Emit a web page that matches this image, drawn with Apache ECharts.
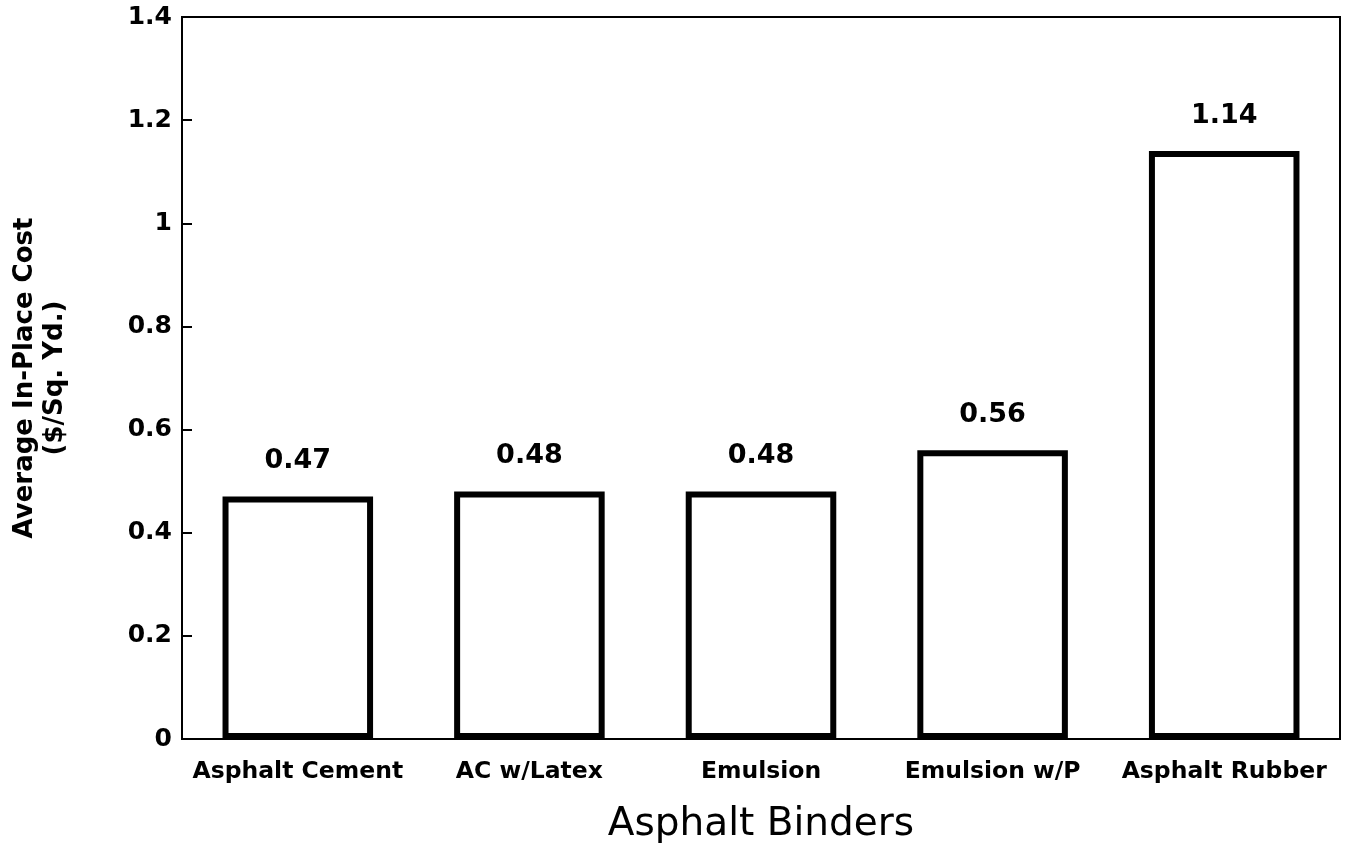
<!DOCTYPE html>
<html>
<head>
<meta charset="utf-8">
<script src="https://cdn.jsdelivr.net/npm/echarts@6/dist/echarts.min.js"></script>
<style>
  html, body { margin: 0; padding: 0; background: #fff; }
  #chart { width: 1356px; height: 852px; }
</style>
</head>
<body>
<div id="chart"></div>
<script>
// Average in-place cost by asphalt binder type
const binders = ['Asphalt Cement', 'AC w/Latex', 'Emulsion', 'Emulsion w/P', 'Asphalt Rubber'];
const costs = [0.47, 0.48, 0.48, 0.56, 1.14];
const yTicks = [0, 0.2, 0.4, 0.6, 0.8, 1, 1.2, 1.4];

const WIDE = '"DejaVu Sans", Verdana, sans-serif';
const chart = echarts.init(document.getElementById('chart'));

chart.setOption({
  backgroundColor: '#ffffff',
  animation: false,
  grid: {
    left: 182, right: 16, top: 17, bottom: 113,
    outerBoundsMode: 'none',
    containLabel: false,
    show: true, borderColor: '#000', borderWidth: 2, backgroundColor: 'transparent'
  },
  xAxis: {
    type: 'category',
    data: binders,
    axisLine: { show: true, lineStyle: { color: '#000', width: 2 } },
    axisTick: { show: false },
    axisLabel: {
      color: '#000', fontFamily: WIDE, fontSize: 23.5, fontWeight: 'bold', margin: 21,
      interval: 0
    },
    name: 'Asphalt Binders',
    nameLocation: 'middle',
    nameGap: 66,
    nameTextStyle: { color: '#000', fontFamily: WIDE, fontSize: 39 }
  },
  yAxis: {
    type: 'value',
    min: 0, max: 1.4, interval: 0.2,
    axisLine: { show: true, lineStyle: { color: '#000', width: 2 } },
    axisTick: { show: true, inside: true, length: 10, lineStyle: { color: '#000', width: 2 } },
    splitLine: { show: false },
    axisLabel: {
      color: '#000', fontFamily: WIDE, fontSize: 25, fontWeight: 'bold', margin: 10,
      formatter: v => {
        const t = yTicks.find(x => Math.abs(x - v) < 1e-9);
        return t === undefined ? '' : String(t);
      }
    },
    name: 'Average In-Place Cost\n($/Sq. Yd.)',
    nameLocation: 'middle',
    nameRotate: 90,
    nameGap: 112,
    nameTextStyle: { color: '#000', fontFamily: WIDE, fontSize: 26, fontWeight: 'bold', lineHeight: 30, align: 'center' }
  },
  series: [{
    type: 'bar',
    data: costs,
    barWidth: '65%',
    itemStyle: { color: '#fff', borderColor: '#000', borderWidth: 6 },
    label: {
      show: true, position: 'top', distance: 22,
      color: '#000', fontFamily: WIDE, fontSize: 27, fontWeight: 'bold',
      formatter: p => p.value.toFixed(2)
    }
  }]
});
</script>
</body>
</html>
